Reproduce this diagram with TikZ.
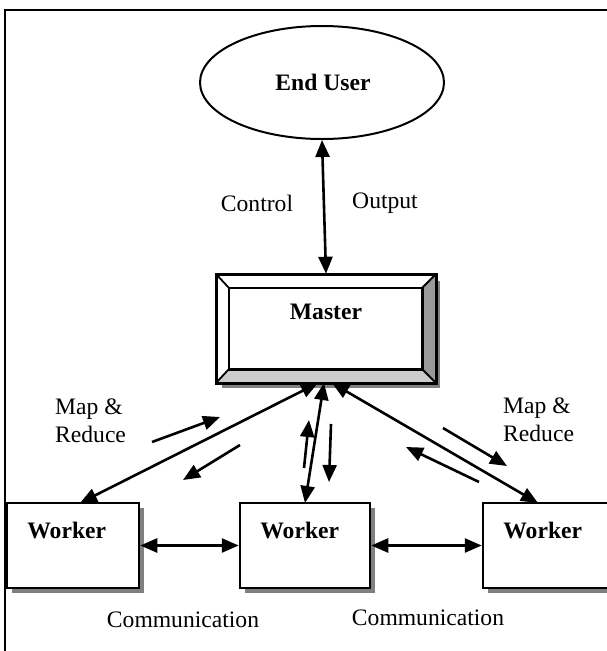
\documentclass[tikz,border=0pt]{standalone}
\usepackage{fontspec}
\setmainfont{Liberation Serif}
\usetikzlibrary{arrows.meta,shapes.geometric,shadows,calc}

\tikzset{
  every node/.style={font=\fontsize{23.6}{28}\selectfont},
  frameline/.style={line width=1.8pt},
  workerbox/.style={draw, line width=2.5pt, fill=white, minimum height=85pt,
    drop shadow={shadow xshift=5pt, shadow yshift=-5pt, fill=black!50, opacity=1}},
  twoway/.style={{Triangle[length=17pt,width=14pt]}-{Triangle[length=17pt,width=14pt]}, line width=2.6pt},
  oneway/.style={-{Triangle[length=17pt,width=14pt]}, line width=2.6pt},
  lbl/.style={inner sep=0pt, align=left},
}

\begin{document}
\begin{tikzpicture}[x=1pt, y=-1pt]
\useasboundingbox (0,0) rectangle (607,651);
\clip (0,0) rectangle (607,651);

% outer frame, open towards the right and bottom
\draw[frameline] (5,700) -- (5,10) -- (700,10);

% end user
\node[draw, ellipse, line width=2pt, minimum width=244pt, minimum height=113pt, inner sep=0pt]
  (eu) at (322,82.5) {};
\node at (323,82) {\bfseries End User};

% master with bevelled frame
\fill[black!50] (222,281) rectangle (440,388);
\node[draw, line width=2.5pt, fill=white, minimum width=218pt, minimum height=107pt, inner sep=0pt]
  (master) at (326,328.5) {};
\coordinate (mi-nw) at ($(master.north west)+(13,14)$);
\coordinate (mi-ne) at ($(master.north east)+(-14,14)$);
\coordinate (mi-se) at ($(master.south east)+(-14,-14)$);
\coordinate (mi-sw) at ($(master.south west)+(13,-14)$);
\fill[black!20] (master.south west) -- (mi-sw) -- (mi-se) -- (master.south east) -- cycle;
\fill[black!40] (master.north east) -- (mi-ne) -- (mi-se) -- (master.south east) -- cycle;
\draw[line width=2.5pt] (master.north west) rectangle (master.south east);
\draw[line width=2.5pt] (mi-nw) rectangle (mi-se);
\draw[line width=1.8pt] (master.north west) -- (mi-nw)
  (master.north east) -- (mi-ne)
  (master.south east) -- (mi-se)
  (master.south west) -- (mi-sw);
\node at (326,312) {\bfseries Master};

% workers
\node[workerbox, minimum width=132pt] (w1) at (73,545.5) {};
\node[workerbox, minimum width=130pt] (w2) at (305,545.5) {};
\node[workerbox, minimum width=140pt] (w3) at (553,545.5) {};
\node at ($(w1.north west)+(61,29)$) {\bfseries Worker};
\node at ($(w2.north west)+(61,29)$) {\bfseries Worker};
\node at ($(w3.north west)+(61,29)$) {\bfseries Worker};

% end user <-> master
\draw[twoway] (eu.south) -- (master.north);
\node at (257,203) {Control};
\node at (385,203) {Output};

% master <-> workers
\coordinate (m1) at (318,383);
\coordinate (m2) at (324,383);
\coordinate (m3) at (332,383);
\coordinate (t1) at (80,503);
\coordinate (t2) at (305,503);
\coordinate (t3) at (538,503);
\draw[twoway] (m1) -- (t1);
\draw[twoway] (m2) -- (t2);
\draw[twoway] (m3) -- (t3);

% map & reduce direction marks
\coordinate (a1s) at (152,442); \coordinate (a1e) at (220,417);
\coordinate (a2s) at (240,445); \coordinate (a2e) at (183,480);
\coordinate (a3s) at (304,468); \coordinate (a3e) at (309,420);
\coordinate (a4s) at (331,424); \coordinate (a4e) at (329,482);
\coordinate (a5s) at (443,428); \coordinate (a5e) at (507,466);
\coordinate (a6s) at (479,482); \coordinate (a6e) at (406,447);
\draw[oneway] (a1s) -- (a1e);
\draw[oneway] (a2s) -- (a2e);
\draw[oneway] (a3s) -- (a3e);
\draw[oneway] (a4s) -- (a4e);
\draw[oneway] (a5s) -- (a5e);
\draw[oneway] (a6s) -- (a6e);
\node[lbl, anchor=west] at (55,421) {Map \&\\Reduce};
\node[lbl, anchor=west] at (503,420) {Map \&\\Reduce};

% worker <-> worker
\draw[twoway] (w1.east) -- (w2.west);
\draw[twoway] (w2.east) -- (w3.west);
\node at (183,620) {Communication};
\node at (428,618) {Communication};
\end{tikzpicture}
\end{document}
